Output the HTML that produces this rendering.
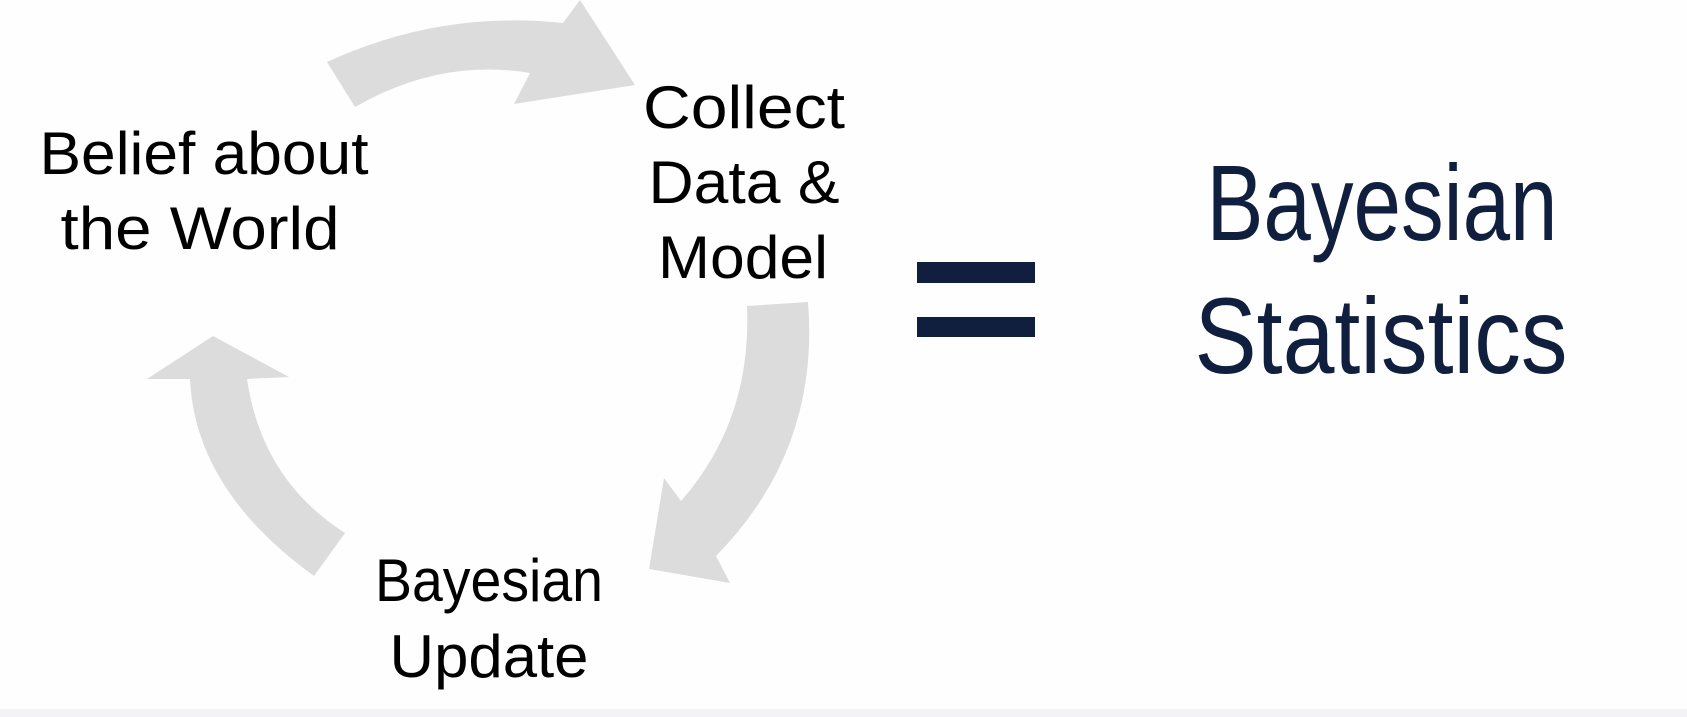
<!DOCTYPE html>
<html><head><meta charset="utf-8"><style>
html,body{margin:0;padding:0;background:#fff;}
svg{display:block;}
</style></head><body>
<svg width="1687" height="717" viewBox="0 0 1687 717" xmlns="http://www.w3.org/2000/svg">
<rect width="1687" height="717" fill="#fefefe"/>
<rect y="709" width="1687" height="8" fill="#f3f3f5"/>
<g fill="#dcdcdc">
<path d="M327,62 Q440,10 563,23 L580,0 L635,85 L514,104 L530,73 Q440,58 355,107 Z"/>
<path d="M747,306 L808,302 Q820,450 716,556 L730,583 L649,569 L664,478 L681,501 Q752,420 747,306 Z"/>
<path d="M314,576 Q195,490 190,379 L147,379 L213,336 L289,377 L247,379 Q262,480 345,533 Z"/>
</g>
<g font-family="Liberation Sans, sans-serif" fill="#000" font-size="60" text-anchor="middle">
<text x="204" y="174" textLength="329" lengthAdjust="spacingAndGlyphs">Belief about</text>
<text x="200" y="249" textLength="279" lengthAdjust="spacingAndGlyphs">the World</text>
<text x="744" y="128" textLength="202" lengthAdjust="spacingAndGlyphs">Collect</text>
<text x="744" y="203" textLength="191" lengthAdjust="spacingAndGlyphs">Data &amp;</text>
<text x="743" y="278" textLength="170" lengthAdjust="spacingAndGlyphs">Model</text>
<text x="489" y="601" textLength="228" lengthAdjust="spacingAndGlyphs">Bayesian</text>
<text x="489" y="677" textLength="199" lengthAdjust="spacingAndGlyphs">Update</text>
</g>
<g fill="#0f1f3d">
<rect x="917" y="262" width="118" height="21"/>
<rect x="917" y="317" width="118" height="20"/>
</g>
<g font-family="Liberation Sans, sans-serif" fill="#0f1f3d" font-size="108" text-anchor="middle">
<text x="1382" y="240" textLength="351" lengthAdjust="spacingAndGlyphs">Bayesian</text>
<text x="1381" y="373" textLength="373" lengthAdjust="spacingAndGlyphs">Statistics</text>
</g>
</svg>
</body></html>
